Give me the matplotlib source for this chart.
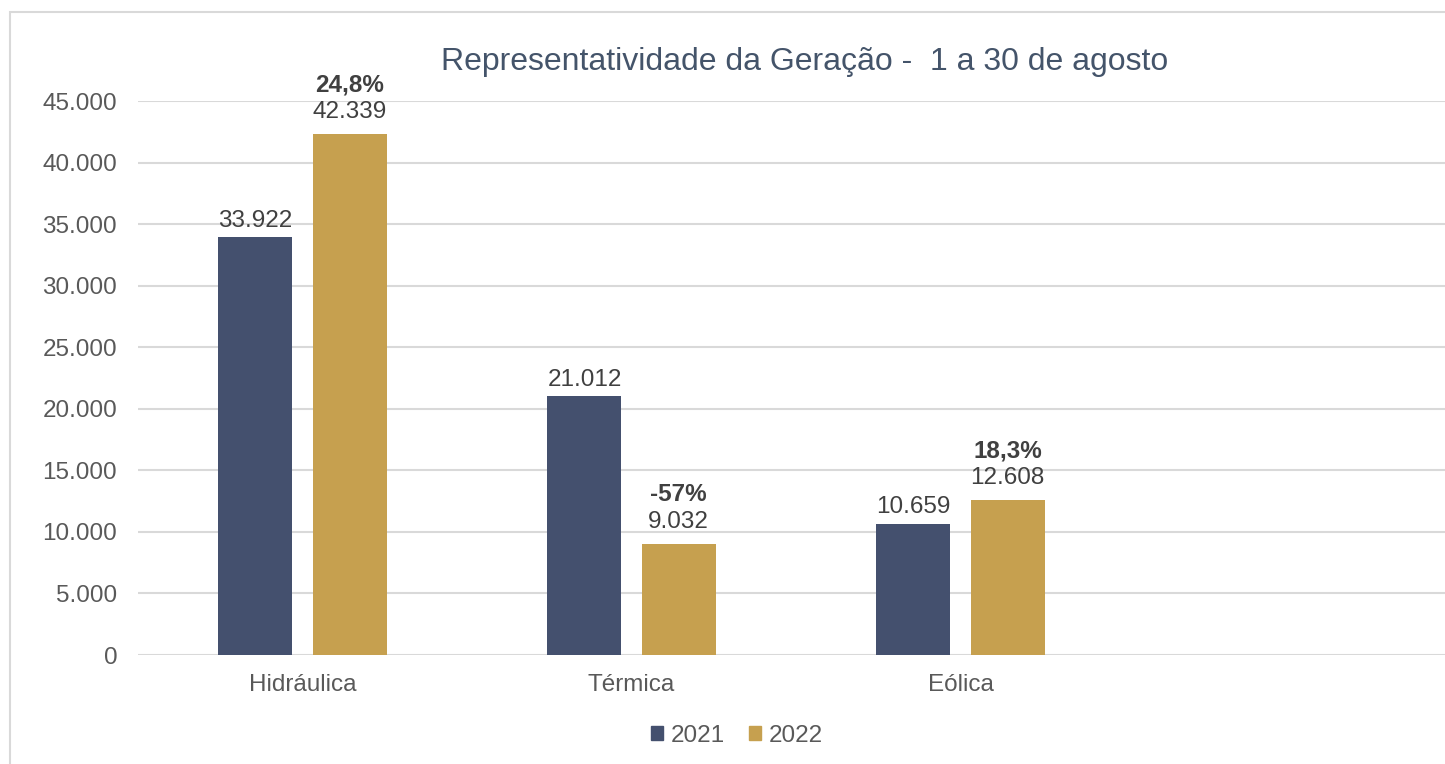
import matplotlib.pyplot as plt
from matplotlib.patches import Patch, Rectangle

plt.rcParams['font.family'] = ['Liberation Sans', 'DejaVu Sans']

# data
categories = ['Hidráulica', 'Térmica', 'Eólica', '']
v2021 = [33922, 21012, 10659]
v2022 = [42339, 9032, 12608]
var_labels = ['24,8%', '-57%', '18,3%']
yticks = [0, 5000, 10000, 15000, 20000, 25000, 30000, 35000, 40000, 45000]

c2021 = '#44506E'
c2022 = '#C6A04F'
grid_c = '#D9D9D9'


def fmt(v):
    return f'{v:,}'.replace(',', '.')


W, H = 1445, 764
fig = plt.figure(figsize=(W / 100, H / 100), dpi=100)
ax = fig.add_axes([138 / W, (H - 655) / H, 1316 / W, (655 - 101) / H])

x = range(len(v2021))
bw = 0.225
off = 0.143
b1 = ax.bar([i - off for i in x], v2021, bw, color=c2021, zorder=3)
b2 = ax.bar([i + off for i in x], v2022, bw, color=c2022, zorder=3)

# value labels
for rect, v in zip(b1, v2021):
    ax.annotate(fmt(v), (rect.get_x() + rect.get_width() / 2, v),
                xytext=(0, 4), textcoords='offset points', ha='center', va='bottom',
                fontsize=17.5, color='#404040')
for rect, v, p in zip(b2, v2022, var_labels):
    ax.annotate(fmt(v), (rect.get_x() + rect.get_width() / 2, v),
                xytext=(0, 8), textcoords='offset points', ha='center', va='bottom',
                fontsize=17.5, color='#404040')
    ax.annotate(p, (rect.get_x() + rect.get_width() / 2, v),
                xytext=(0, 27), textcoords='offset points', ha='center', va='bottom',
                fontsize=17.5, color='#404040', fontweight='bold')

ax.set_xlim(-0.5, 3.5)
ax.set_ylim(0, 45000)
ax.set_xticks(range(len(categories)))
ax.set_xticklabels(categories)
ax.set_yticks(yticks)
ax.set_yticklabels([fmt(t) for t in yticks])
ax.tick_params(length=0, labelsize=17.5, labelcolor='#595959')
ax.tick_params(axis='y', pad=15)
ax.tick_params(axis='x', pad=14)
ax.grid(axis='y', color=grid_c, linewidth=1.5, zorder=0)
for s in ax.spines.values():
    s.set_visible(False)
ax.set_facecolor('none')

fig.text(805 / W, 1 - 62 / H, 'Representatividade da Geração -  1 a 30 de agosto',
         ha='center', va='center', fontsize=23, color='#44546A')

handles = [Patch(color=c2021, label='2021'), Patch(color=c2022, label='2022')]
fig.legend(handles=handles, loc='center', bbox_to_anchor=(737 / W, 1 - 736 / H),
           ncol=2, frameon=False, fontsize=17.5, handlelength=0.5, handleheight=0.5,
           handletextpad=0.3, columnspacing=1.0, labelcolor='#595959')

# chart border (cropped on right and bottom)
fig.add_artist(Rectangle((10 / W, -0.05), 1.2, 1 - 12 / H + 0.05,
                         transform=fig.transFigure, fill=False,
                         edgecolor=grid_c, linewidth=1.5))

fig.savefig('out.png', dpi=100)
